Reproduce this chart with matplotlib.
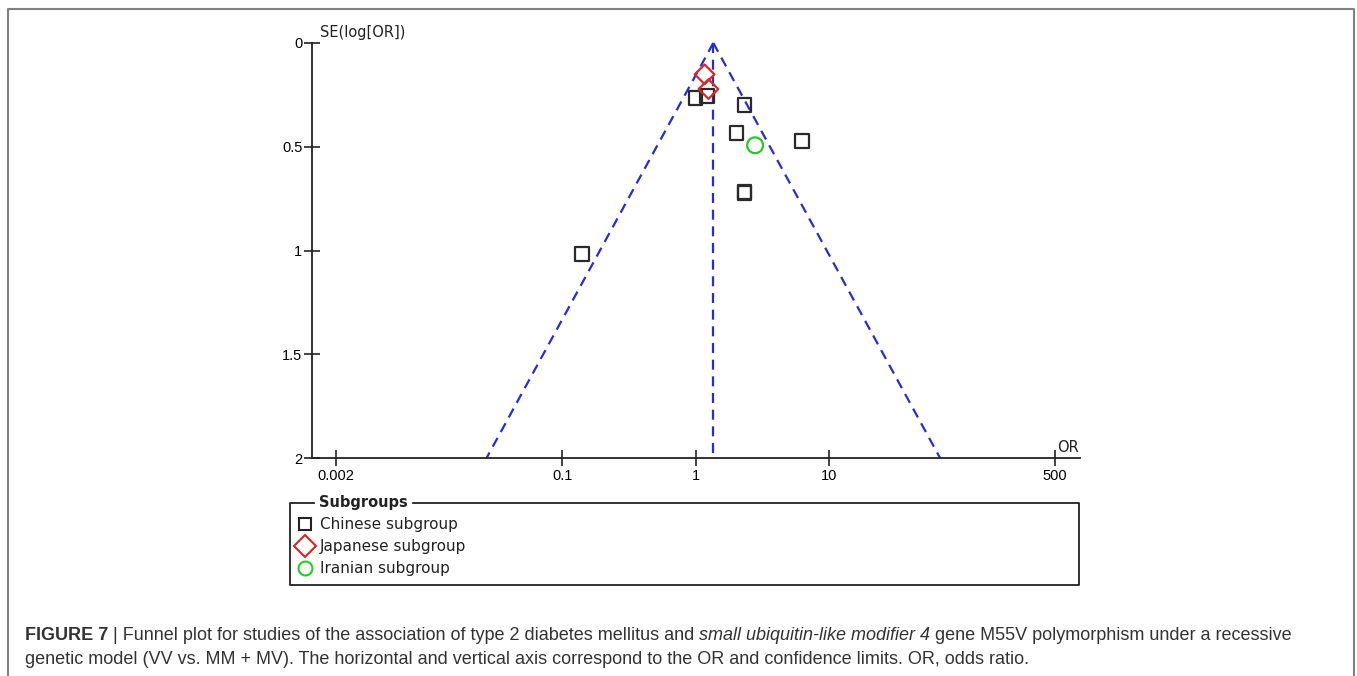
import numpy as np
import matplotlib
matplotlib.use("Agg")
import matplotlib.pyplot as plt
from matplotlib.lines import Line2D

# Data
chinese_or = [1.00, 1.21, 2.33, 2.03, 6.33, 2.33, 2.33, 0.14]
chinese_se = [0.265, 0.255, 0.30, 0.434, 0.472, 0.716, 0.722, 1.017]
japanese_or = [1.17, 1.25]
japanese_se = [0.151, 0.222]
iranian_or = [2.80]
iranian_se = [0.493]
pooled_or = 1.36
x_ticks = [0.002, 0.1, 1, 10, 500]
x_ticklabels = ["0.002", "0.1", "1", "10", "500"]
y_ticks = [0, 0.5, 1, 1.5, 2]
y_ticklabels = ["0", "0.5", "1", "1.5", "2"]
legend_labels = ["Chinese subgroup", "Japanese subgroup", "Iranian subgroup"]

W, H = 1357, 676
fig = plt.figure(figsize=(W / 100, H / 100), dpi=100)
fig.patch.set_facecolor("white")

def fx(px):
    return px / W

def fy(py):
    return 1 - py / H

# Figure frame
fig.add_artist(Line2D([fx(8), fx(8), fx(1354), fx(1354)],
                      [fy(680), fy(9), fy(9), fy(680)],
                      transform=fig.transFigure, color="#808080", lw=1.5))

ax = fig.add_axes([fx(312), fy(458), fx(1080) - fx(312), fy(43) - fy(458)])
ax.set_xscale("log")
ax.set_xlim(0.00132, 770)
ax.set_ylim(2, 0)
for s in ["top", "right"]:
    ax.spines[s].set_visible(False)
for s in ["left", "bottom"]:
    ax.spines[s].set_linewidth(1.3)
    ax.spines[s].set_color("#222222")

tick_font = dict(family="Liberation Sans", size=10.5)
ax.set_xticks(x_ticks)
ax.set_xticklabels(x_ticklabels, **tick_font)
ax.xaxis.set_minor_locator(matplotlib.ticker.NullLocator())
ax.set_yticks(y_ticks)
ax.set_yticklabels(y_ticklabels, **tick_font)
ax.tick_params(direction="inout", length=12, width=1.2, color="#222222", pad=2)
ax.tick_params(axis="y", pad=1)

# Funnel
dash = (0, (4.5, 3))
fcol = "#2a2ad8"
se_line = np.array([0.0, 2.0])
lo = np.exp(np.log(pooled_or) - 1.96 * se_line)
hi = np.exp(np.log(pooled_or) + 1.96 * se_line)
ax.plot(lo, se_line, ls=dash, color=fcol, lw=1.6, clip_on=False)
ax.plot(hi, se_line, ls=dash, color=fcol, lw=1.6, clip_on=False)
ax.plot([pooled_or, pooled_or], [0, 2], ls=dash, color=fcol, lw=1.6, clip_on=False)

ax.scatter(chinese_or, chinese_se, marker="s", s=100, facecolors="none",
           edgecolors="#2a2a2a", linewidths=1.6, zorder=3, clip_on=False)
ax.scatter(japanese_or, japanese_se, marker="D", s=100, facecolors="none",
           edgecolors="#d82828", linewidths=1.6, zorder=3, clip_on=False)
ax.scatter(iranian_or, iranian_se, marker="o", s=130, facecolors="none",
           edgecolors="#28c828", linewidths=1.6, zorder=3, clip_on=False)

fig.text(fx(320), fy(33), "SE(log[OR])", ha="left", va="center",
         family="DejaVu Sans", size=10.5, color="#222222")
fig.text(fx(1068), fy(447), "OR", ha="center", va="center",
         family="DejaVu Sans", size=10.5, color="#222222")

# Legend group box
lx0, lx1, ly0, ly1 = 290, 1079, 503, 585
fig.add_artist(Line2D([fx(314), fx(lx0), fx(lx0), fx(lx1), fx(lx1), fx(413)],
                      [fy(ly0), fy(ly0), fy(ly1), fy(ly1), fy(ly0), fy(ly0)],
                      transform=fig.transFigure, color="#222222", lw=1.3))
fig.text(fx(319), fy(503), "Subgroups", ha="left", va="center",
         family="DejaVu Sans", size=10.5, weight="bold", color="#222222")
mk = [("s", "#222222", 9), ("D", "#dd2222", 11), ("o", "#22cc22", 10)]
rows = [524, 546, 568]
for (m, c, ms), lab, ry in zip(mk, legend_labels, rows):
    fig.add_artist(Line2D([fx(305)], [fy(ry)], transform=fig.transFigure,
                          marker=m, markersize=ms, markerfacecolor="none",
                          markeredgecolor=c, markeredgewidth=1.5, ls="none"))
    fig.text(fx(320), fy(ry + 1), lab, ha="left", va="center",
             family="DejaVu Sans", size=11, color="#222222")

# Caption
seg1 = [("FIGURE 7", dict(weight="bold")),
        (" | Funnel plot for studies of the association of type 2 diabetes mellitus and ", {}),
        ("small ubiquitin-like modifier 4", dict(style="italic")),
        (" gene M55V polymorphism under a recessive", {})]
line2 = "genetic model (VV vs. MM + MV). The horizontal and vertical axis correspond to the OR and confidence limits. OR, odds ratio."

r = fig.canvas.get_renderer()
base_size = 12.5
def measure(size):
    x = 0
    for txt, kw in seg1:
        t = fig.text(0, 0, txt, family="Liberation Sans", size=size, **kw)
        x += t.get_window_extent(renderer=r).width
        t.remove()
    return x
w0 = measure(base_size)
cap_size = base_size * 1270 / w0
cap_font = dict(family="Liberation Sans", size=cap_size, color="#333333")

x = 25
for txt, kw in seg1:
    t = fig.text(fx(x), fy(636), txt, ha="left", va="center", **kw, **cap_font)
    x += t.get_window_extent(renderer=r).width
fig.text(fx(25), fy(659), line2, ha="left", va="center", **cap_font)

fig.savefig("out.png", dpi=100, facecolor="white")
